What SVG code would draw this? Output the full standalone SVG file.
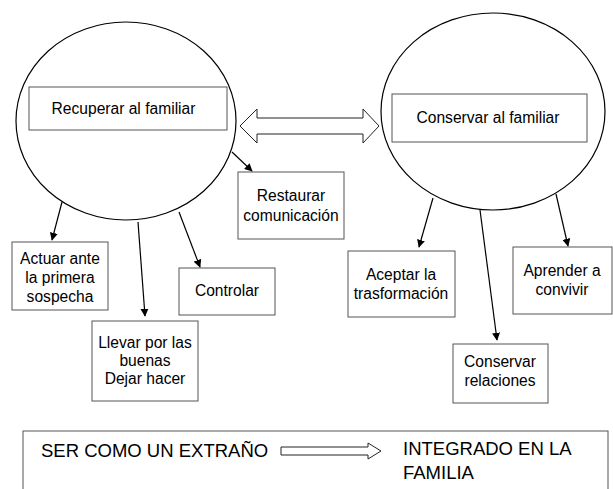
<svg xmlns="http://www.w3.org/2000/svg" width="613" height="489" viewBox="0 0 613 489">
<defs>
<style>
.circ{fill:none;stroke:#000;stroke-width:1.2}
.box{fill:#fff;stroke:#555;stroke-width:1}
.t{font-family:"Liberation Sans",Arial,sans-serif;font-size:15.6px;fill:#000;text-anchor:middle}
.tb{font-family:"Liberation Sans",Arial,sans-serif;font-size:18.5px;fill:#000}
.edge{fill:none;stroke:#000;stroke-width:1.2;marker-end:url(#ah)}
.big{fill:#fff;stroke:#222;stroke-width:1}
</style>
<marker id="ah" viewBox="0 0 10 10" refX="9" refY="5" markerWidth="8" markerHeight="8" markerUnits="userSpaceOnUse" orient="auto">
<path d="M0,0 L10,5 L0,10 z" fill="#000"/>
</marker>
</defs>
<rect width="613" height="489" fill="#fff"/>

<g id="recuperar">
<ellipse class="circ" cx="126" cy="121" rx="110" ry="99"/>
<rect class="box" x="29" y="87" width="198" height="43"/>
<text class="t" x="123.5" y="114">Recuperar al familiar</text>
</g>

<g id="conservar">
<ellipse class="circ" cx="493" cy="111.5" rx="112" ry="98.5"/>
<rect class="box" x="392" y="94" width="195" height="48"/>
<text class="t" x="488" y="123">Conservar al familiar</text>
</g>

<g id="restaurar">
<rect class="box" x="238" y="172" width="106" height="67"/>
<text class="t" x="291" y="200.5">Restaurar</text>
<text class="t" x="291" y="220.5">comunicación</text>
</g>

<g id="actuar">
<rect class="box" x="12" y="242" width="96" height="68"/>
<text class="t" x="60" y="264">Actuar ante</text>
<text class="t" x="60" y="283">la primera</text>
<text class="t" x="60" y="302">sospecha</text>
</g>

<g id="controlar">
<rect class="box" x="179" y="268" width="96" height="47"/>
<text class="t" x="227" y="296">Controlar</text>
</g>

<g id="llevar">
<rect class="box" x="92" y="321" width="106" height="80"/>
<text class="t" x="145" y="348">Llevar por las</text>
<text class="t" x="145" y="366">buenas</text>
<text class="t" x="145" y="384">Dejar hacer</text>
</g>

<g id="aceptar">
<rect class="box" x="348" y="251" width="107" height="66"/>
<text class="t" x="401" y="280">Aceptar la</text>
<text class="t" x="401" y="298.5">trasformación</text>
</g>

<g id="aprender">
<rect class="box" x="513" y="247" width="99" height="67"/>
<text class="t" x="562" y="275.5">Aprender a</text>
<text class="t" x="562" y="294.5">convivir</text>
</g>

<g id="relaciones">
<rect class="box" x="453" y="344" width="95" height="59"/>
<text class="t" x="500" y="367">Conservar</text>
<text class="t" x="500" y="386">relaciones</text>
</g>

<g id="connectors">
<polygon class="big" points="240,126 257,109 257,118 363,118 363,109 379,126 363,143 363,134 257,134 257,143"/>
<line class="edge" x1="232" y1="152" x2="252" y2="171"/>
<line class="edge" x1="62" y1="202" x2="52" y2="240"/>
<line class="edge" x1="138" y1="222" x2="145" y2="316"/>
<line class="edge" x1="179" y1="212" x2="200" y2="267"/>
<line class="edge" x1="433" y1="198" x2="419" y2="247"/>
<line class="edge" x1="480" y1="210" x2="497" y2="340"/>
<line class="edge" x1="556" y1="194" x2="568" y2="246"/>
</g>

<g id="legend">
<rect class="box" x="23" y="431" width="585" height="70"/>
<text class="tb" x="41" y="457">SER COMO UN EXTRAÑO</text>
<polygon class="big" points="281,447 368,447 368,443 381,451 368,459 368,455 281,455"/>
<text class="tb" x="403" y="455">INTEGRADO EN LA</text>
<text class="tb" x="403" y="479">FAMILIA</text>
</g>
</svg>
